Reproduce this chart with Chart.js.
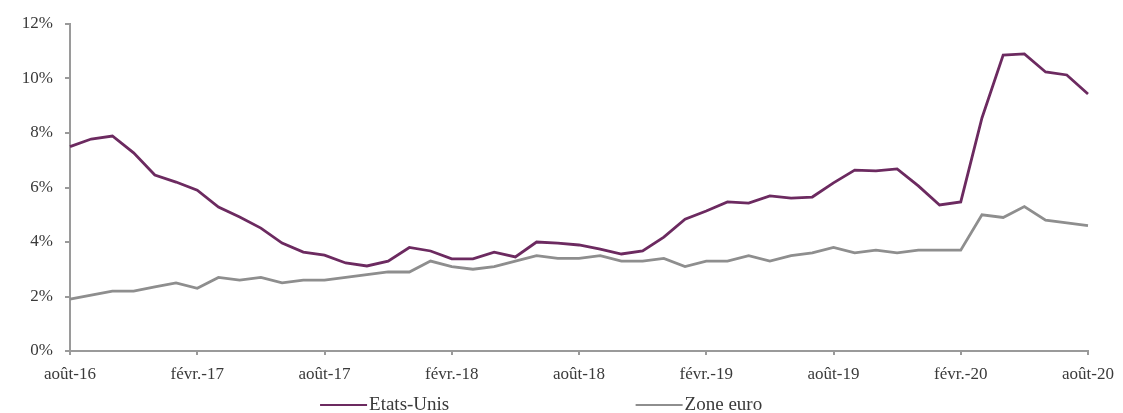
<!DOCTYPE html>
<html>
<head>
<meta charset="utf-8">
<script src="https://cdn.jsdelivr.net/npm/chart.js@4/dist/chart.umd.min.js"></script>
<style>
    html, body { margin: 0; padding: 0; background: #fff; }
    #wrap { width: 1123px; height: 413px; position: relative; }
</style>
</head>
<body>
<div id="wrap"><canvas id="rateChart"></canvas></div>
<script>
// Months from août-16 to août-20
const monthNames = ['août', 'sept.', 'oct.', 'nov.', 'déc.', 'janv.', 'févr.', 'mars', 'avr.', 'mai', 'juin', 'juil.'];
const startYears = [16, 16, 16, 16, 16, 17, 17, 17, 17, 17, 17, 17];

const months = [];
for (let y = 0; y < 4; y++) {
    monthNames.forEach((m, k) => months.push(`${m}-${startYears[k] + y}`));
}
months.push('août-20');

const etatsUnis = [
    7.5, 7.78, 7.89, 7.27, 6.46, 6.2, 5.9, 5.28, 4.92, 4.51, 3.96, 3.63,
    3.52, 3.23, 3.12, 3.3, 3.8, 3.67, 3.38, 3.38, 3.63, 3.45, 4.0, 3.96,
    3.89, 3.74, 3.56, 3.67, 4.18, 4.84, 5.14, 5.47, 5.43, 5.69, 5.61, 5.65,
    6.17, 6.64, 6.61, 6.68, 6.06, 5.36, 5.47, 8.55, 10.86, 10.9, 10.24, 10.13,
    9.43
];

const zoneEuro = [
    1.9, 2.05, 2.2, 2.2, 2.35, 2.5, 2.3, 2.7, 2.6, 2.7, 2.5, 2.6,
    2.6, 2.7, 2.8, 2.9, 2.9, 3.3, 3.1, 3.0, 3.1, 3.3, 3.5, 3.4,
    3.4, 3.5, 3.3, 3.3, 3.4, 3.1, 3.3, 3.3, 3.5, 3.3, 3.5, 3.6,
    3.8, 3.6, 3.7, 3.6, 3.7, 3.7, 3.7, 5.0, 4.9, 5.3, 4.8, 4.7,
    4.6
];

const yTicks = [0, 2, 4, 6, 8, 10, 12];

const fontFamily = "'Liberation Serif', 'DejaVu Serif', serif";
const tickFont = { family: fontFamily, size: 17 };
const axisGray = '#9a9a9a';
const textColor = '#3a3a3a';

// Bottom legend with wide spacing between the two entries
const wideLegend = {
    id: 'wideLegend',
    afterDraw(chart) {
        const ctx = chart.ctx;
        const starts = [0.285, 0.566];
        const y = chart.height - 8;
        ctx.save();
        ctx.font = `19px ${fontFamily}`;
        ctx.textBaseline = 'middle';
        ctx.textAlign = 'left';
        chart.data.datasets.forEach((ds, i) => {
            const x = chart.width * starts[i];
            ctx.strokeStyle = ds.borderColor;
            ctx.lineWidth = 2;
            ctx.beginPath();
            ctx.moveTo(x, y);
            ctx.lineTo(x + 47, y);
            ctx.stroke();
            ctx.fillStyle = textColor;
            ctx.fillText(ds.label, x + 49, y);
        });
        ctx.restore();
    }
};

new Chart(document.getElementById('rateChart'), {
    type: 'line',
    data: {
        labels: months,
        datasets: [
            {
                label: 'Etats-Unis',
                data: etatsUnis,
                borderColor: '#6c2a60',
                backgroundColor: '#6c2a60',
                borderWidth: 2.8,
                pointRadius: 0,
                tension: 0
            },
            {
                label: 'Zone euro',
                data: zoneEuro,
                borderColor: '#8e8e8e',
                backgroundColor: '#8e8e8e',
                borderWidth: 2.8,
                pointRadius: 0,
                tension: 0
            }
        ]
    },
    options: {
        responsive: true,
        maintainAspectRatio: false,
        animation: false,
        layout: { padding: { left: 0, right: 35, top: 24, bottom: 28 } },
        scales: {
            x: {
                offset: false,
                border: { color: axisGray, width: 2 },
                grid: {
                    drawOnChartArea: false,
                    tickLength: 4,
                    lineWidth: 2,
                    color: ctx => (ctx.index % 6 === 0 ? axisGray : 'rgba(0,0,0,0)')
                },
                ticks: {
                    autoSkip: false,
                    maxRotation: 0,
                    color: textColor,
                    font: tickFont,
                    padding: 9,
                    callback: (v, i) => (i % 6 === 0 ? months[i] : '')
                },
                afterFit: axis => { axis.height = 34; }
            },
            y: {
                min: 0,
                max: 12,
                afterBuildTicks: axis => { axis.ticks = yTicks.map(v => ({ value: v })); },
                border: { color: axisGray, width: 2 },
                grid: { drawOnChartArea: false, tickLength: 5, lineWidth: 2, color: axisGray },
                ticks: {
                    color: textColor,
                    font: tickFont,
                    padding: 12,
                    callback: v => v + '%'
                },
                afterFit: axis => { axis.width = 70; }
            }
        },
        plugins: {
            legend: { display: false },
            tooltip: { enabled: false }
        }
    },
    plugins: [wideLegend]
});
</script>
</body>
</html>
